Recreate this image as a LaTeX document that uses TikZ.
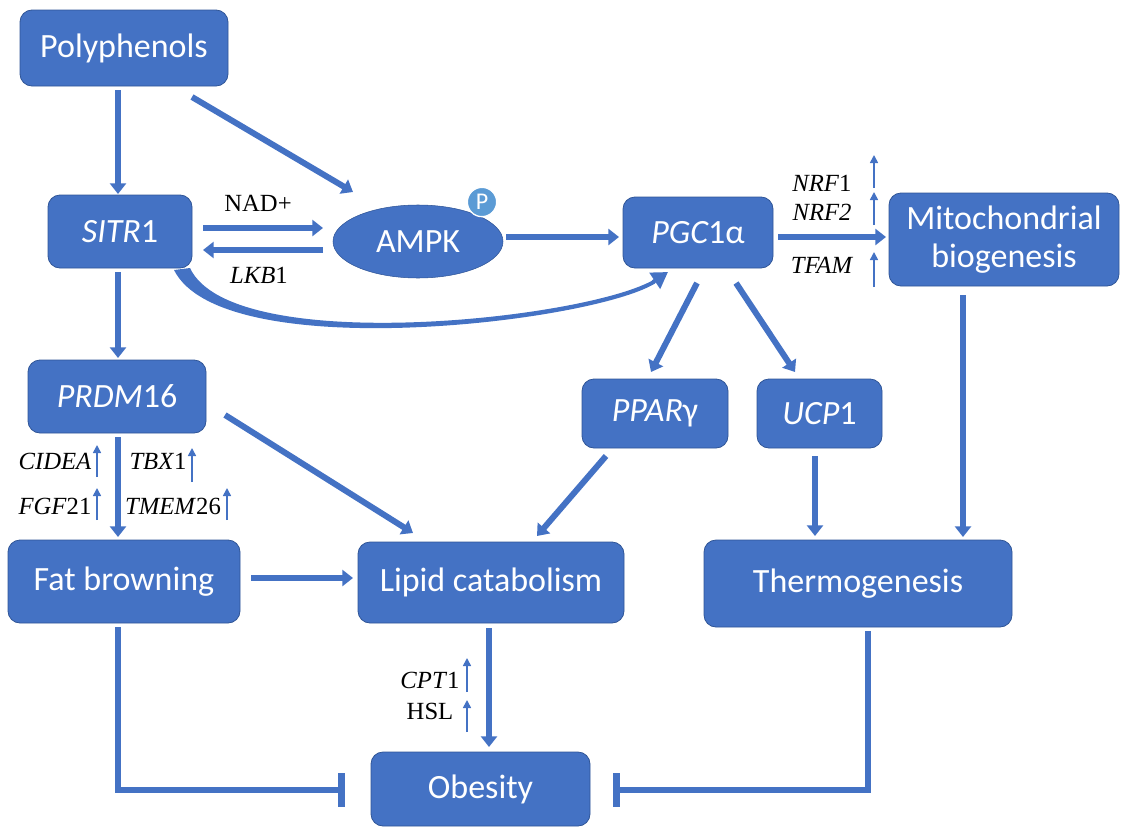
\documentclass[tikz,border=0pt]{standalone}
\usepackage{fontspec}
\setmainfont{Liberation Serif}
\newfontfamily\boxfont{Carlito}
\usetikzlibrary{arrows.meta,shapes.geometric,calc}
\definecolor{fillblue}{HTML}{4472C4}
\definecolor{edgeblue}{HTML}{2F5597}
\definecolor{pblue}{HTML}{5B9BD5}
\begin{document}
\begin{tikzpicture}[x=0.75pt,y=-0.75pt,
 box/.style={draw=edgeblue, fill=fillblue, rounded corners=9pt, text=white,
   font=\boxfont\fontsize{25.5}{28.5}\selectfont, inner sep=0pt, align=center, line width=0.6pt},
 flow/.style={draw=fillblue, line width=4.5pt, -{Triangle[width=12pt,length=8pt]}},
 curvy/.style={draw=fillblue, line width=3pt, -{Triangle[width=14pt,length=12pt]}},
 inhib/.style={draw=fillblue, line width=5pt, -{Bar[width=25pt]}},
 lab/.style={font=\fontsize{18.5}{21}\selectfont, text=black, inner sep=0pt},
 up/.style={draw=fillblue, line width=1.2pt, -{Triangle[width=6pt,length=6pt]}},
]
\useasboundingbox (0,0) rectangle (1121,828);

% boxes
\node[box, minimum width=156pt, minimum height=57pt] (poly) at (124,48) {Polyphenols};
\node[box, minimum width=108pt, minimum height=54.75pt] (sitr) at (120,231.5) {\itshape SITR\upshape 1};
\node[ellipse, draw=edgeblue, fill=fillblue, text=white, font=\boxfont\fontsize{25.5}{28.5}\selectfont,
      inner sep=0pt, minimum width=127.5pt, minimum height=54.75pt] (ampk) at (418,241.5) {AMPK};
\node[circle, fill=pblue, draw=white, line width=1pt, text=white, inner sep=0pt,
      minimum size=22pt, font=\boxfont\fontsize{18}{20}\selectfont] (pp) at (482,202) {P};
\node[box, minimum width=112.5pt, minimum height=53.25pt] (pgc) at (698,232.5) {\itshape PGC\upshape 1α};
\node[box, minimum width=172.5pt, minimum height=69.75pt] (mito) at (1004,239.5) {Mitochondrial\\biogenesis};
\node[box, minimum width=133.5pt, minimum height=54.75pt] (prdm) at (117,396.5) {\itshape PRDM\upshape 16};
\node[box, minimum width=109.5pt, minimum height=51.75pt] (ppar) at (655,413.5) {\itshape PPAR\upshape γ};
\node[box, minimum width=93.75pt, minimum height=51.75pt] (ucp) at (819.5,413.5) {\itshape UCP\upshape 1};
\node[box, minimum width=174pt, minimum height=62.25pt] (fat) at (124,581.5) {Fat browning};
\node[box, minimum width=199.5pt, minimum height=60.75pt] (lipid) at (491,582.5) {Lipid catabolism};
\node[box, minimum width=231pt, minimum height=65.25pt] (thermo) at (858,583.5) {Thermogenesis};
\node[box, minimum width=164.25pt, minimum height=55.5pt] (ob) at (480.5,789) {Obesity};

% labels
\node[lab] (nad) at (258,203) {NAD+};
\node[lab] (lkb) at (259,275) {\textit{LKB}1};
\node[lab] (nrf1) at (822,183) {\textit{NRF}1};
\node[lab] (nrf2) at (822,212) {\textit{NRF2}};
\node[lab] (tfam) at (822,265) {\textit{TFAM}};
\node[lab] (cidea) at (55,461) {\textit{CIDEA}};
\node[lab] (tbx) at (158,461) {\textit{TBX}1};
\node[lab] (fgf) at (55,506) {\textit{FGF}21};
\node[lab] (tmem) at (173,506) {\textit{TMEM}26};
\node[lab] (cpt) at (430,680) {\textit{CPT}1};
\node[lab] (hsl) at (430,711) {HSL};

% small up arrows
\draw[up] ($(nrf1)+(52,5)$) -- ($(nrf1)+(52,-28)$);
\draw[up] ($(nrf2)+(52,13)$) -- ($(nrf2)+(52,-20)$);
\draw[up] ($(tfam)+(52,22)$) -- ($(tfam)+(52,-13)$);
\draw[up] ($(cidea)+(42,16)$) -- ($(cidea)+(42,-16)$);
\draw[up] ($(tbx)+(34,21)$) -- ($(tbx)+(34,-13)$);
\draw[up] ($(fgf)+(42,14)$) -- ($(fgf)+(42,-18)$);
\draw[up] ($(tmem)+(54,14)$) -- ($(tmem)+(54,-18)$);
\draw[up] ($(cpt)+(37,12)$) -- ($(cpt)+(37,-22)$);
\draw[up] ($(hsl)+(37,21)$) -- ($(hsl)+(37,-11)$);

% connectors
\draw[flow] ($(poly)+(-6,42)$) -- ($(sitr)+(-2,-37.5)$);
\draw[flow] ($(poly)+(68,49)$) -- ($(ampk)+(-65,-49.5)$);
\draw[flow] ($(sitr)+(83,-3.5)$) -- ($(ampk)+(-95,-13.5)$);
\draw[flow] ($(ampk)+(-95,8.5)$) -- ($(sitr)+(83,18.5)$);
\draw[flow] ($(ampk)+(88,-4.5)$) -- ($(pgc)+(-79,4.5)$);
% tapered curved connector SITR1 -> PGC1a
\fill[fillblue] ($(sitr)+(54,38.5)$) .. controls ($(sitr)+(102,134.5)$) and ($(pgc)+(-108,90.5)$) .. ($(pgc)+(-43,51)$)
   -- ($(pgc)+(-43,46.5)$) .. controls ($(pgc)+(-108,86.5)$) and ($(sitr)+(112,126.5)$) .. ($(sitr)+(70,36.5)$) -- cycle;
\draw[curvy] ($(pgc)+(-45,49.5)$) -- ($(pgc)+(-30,39.5)$);
\draw[flow] ($(pgc)+(80,4.5)$) -- ($(mito)+(-118,-2.5)$);
\draw[flow] ($(pgc)+(-1,50.5)$) -- ($(ppar)+(-4,-41.5)$);
\draw[flow] ($(pgc)+(38,50.5)$) -- ($(ucp)+(-24.5,-41.5)$);
\draw[flow] ($(sitr)+(-2,40.5)$) -- ($(prdm)+(1,-38.5)$);
\draw[flow] ($(prdm)+(1,40.5)$) -- ($(fat)+(-6,-44.5)$);
\draw[flow] ($(prdm)+(108,18.5)$) -- ($(lipid)+(-78,-49.5)$);
\draw[flow] ($(ppar)+(-49,42.5)$) -- ($(lipid)+(46,-46.5)$);
\draw[flow] ($(ucp)+(-4.5,42.5)$) -- ($(thermo)+(-43,-47.5)$);
\draw[flow] ($(mito)+(-41,55.5)$) -- ($(thermo)+(105,-46.5)$);
\draw[flow] ($(fat)+(127,-3.5)$) -- ($(lipid)+(-138,-4.5)$);
\draw[flow] ($(lipid)+(-2,45.5)$) -- ($(ob)+(8.5,-42)$);
\draw[inhib] ($(fat)+(-6,45.5)$) |- ($(ob)+(-135.5,1)$);
\draw[inhib] ($(thermo)+(10,47.5)$) |- ($(ob)+(132.5,1)$);
\end{tikzpicture}
\end{document}
